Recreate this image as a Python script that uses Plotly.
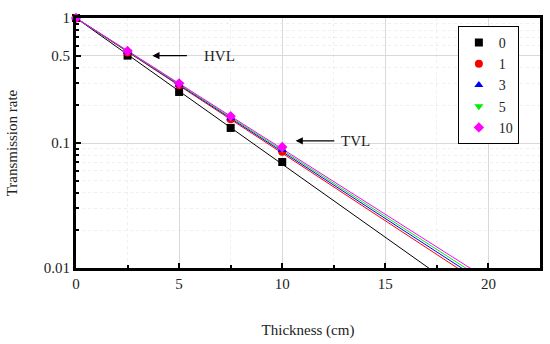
import numpy as np
import plotly.graph_objects as go

# ---- data ----
thickness = [0, 2.5, 5, 7.5, 10]
series_names = ["0", "1", "3", "5", "10"]
rate_0 = [1.0, 0.50, 0.256, 0.132, 0.0705]
rate_1 = [1.0, 0.53, 0.29, 0.155, 0.085]
rate_3 = [1.0, 0.535, 0.293, 0.158, 0.088]
rate_5 = [1.0, 0.54, 0.296, 0.161, 0.09]
rate_10 = [1.0, 0.545, 0.30, 0.164, 0.093]
# fitted attenuation coefficients (1/cm), transmission = exp(-mu*x)
fit_mu = [0.2693, 0.249, 0.2463, 0.2437, 0.2411]

colors = ["#000000", "#ff0000", "#0000ff", "#00ee00", "#ff00ff"]
symbols = ["square", "circle", "triangle-up", "triangle-down", "diamond"]
all_rates = [rate_0, rate_1, rate_3, rate_5, rate_10]

FONT = "Liberation Serif, DejaVu Serif, serif"

fig = go.Figure()
xfit = np.linspace(0, 22.5, 200)
for name, mu, c in zip(series_names, fit_mu, colors):
    fig.add_trace(go.Scatter(x=xfit, y=np.exp(-mu * xfit), mode="lines",
                             line=dict(color=c, width=1), showlegend=False,
                             hoverinfo="skip"))
for name, r, c, s in zip(series_names, all_rates, colors, symbols):
    fig.add_trace(go.Scatter(x=thickness, y=r, mode="markers", name=name,
                             marker=dict(color=c, symbol=s, size=8),
                             cliponaxis=False))

axis_common = dict(showline=True, linewidth=3, linecolor="black", mirror=True,
                   ticks="inside", tickwidth=2, ticklen=5, tickcolor="black",
                   showgrid=True, gridcolor="#d9d9d9", gridwidth=1,
                   zeroline=False, automargin=False,
                   tickfont=dict(family=FONT, size=15, color="#222"))

fig.update_xaxes(range=[0, 22.5], tickvals=[0, 5, 10, 15, 20],
                 minor=dict(dtick=2.5, tick0=0, ticks="inside", ticklen=3,
                            tickwidth=2, tickcolor="black", showgrid=True,
                            gridcolor="#efefef", griddash="dot"),
                 title=dict(text="Thickness (cm)", font=dict(family=FONT, size=15, color="#222"),
                            standoff=34),
                 **axis_common)
fig.update_yaxes(type="log", range=[-2, 0], tickvals=[0.01, 0.1, 0.5, 1],
                 ticktext=["0.01", "0.1", "0.5", "1"],
                 minor=dict(dtick="D1", ticks="inside", ticklen=3, tickwidth=2,
                            tickcolor="black", showgrid=True,
                            gridcolor="#efefef", griddash="dot"),
                 title=dict(text="Transmission rate", font=dict(family=FONT, size=15, color="#222"),
                            standoff=23),
                 **axis_common)

fig.add_annotation(x=3.7, y=np.log10(0.5), ax=5.45, ay=np.log10(0.5),
                   xref="x", yref="y", axref="x", ayref="y", text="",
                   showarrow=True, arrowhead=2, arrowsize=1.2, arrowwidth=1.2,
                   arrowcolor="black")
fig.add_annotation(x=6.95, y=np.log10(0.5), xref="x", yref="y", text="HVL",
                   showarrow=False, font=dict(family=FONT, size=15, color="#222"))
fig.add_annotation(x=10.65, y=np.log10(0.104), ax=12.6, ay=np.log10(0.104),
                   xref="x", yref="y", axref="x", ayref="y", text="",
                   showarrow=True, arrowhead=2, arrowsize=1.2, arrowwidth=1.2,
                   arrowcolor="black")
fig.add_annotation(x=13.55, y=np.log10(0.104), xref="x", yref="y", text="TVL",
                   showarrow=False, font=dict(family=FONT, size=15, color="#222"))

fig.update_layout(
    width=550, height=344,
    margin=dict(l=76, r=10, t=18, b=76, autoexpand=False),
    plot_bgcolor="white", paper_bgcolor="white",
    font=dict(family=FONT, size=15, color="#222"),
    legend=dict(x=0.823, y=0.968, xanchor="left", yanchor="top",
                bordercolor="black", borderwidth=1, bgcolor="white",
                font=dict(family=FONT, size=14, color="#222"),
                itemwidth=30, tracegroupgap=0),
)

fig.write_html("out.html", config={"displayModeBar": False},
               post_script="document.body.style.margin='0';")
